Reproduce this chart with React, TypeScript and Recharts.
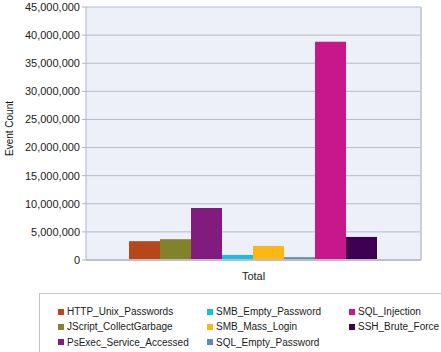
import React from 'react';
import { BarChart, Bar, XAxis, YAxis, CartesianGrid, Legend } from 'recharts';

const categories = ['Total'];
const seriesNames = [
  'HTTP_Unix_Passwords',
  'JScript_CollectGarbage',
  'PsExec_Service_Accessed',
  'SMB_Empty_Password',
  'SMB_Mass_Login',
  'SQL_Empty_Password',
  'SQL_Injection',
  'SSH_Brute_Force',
];
const seriesValues = [3350000, 3700000, 9250000, 900000, 2500000, 500000, 38800000, 4100000];
const seriesColors = ['#B8461B', '#82822A', '#821B7E', '#19BEE8', '#FDB714', '#5B87C6', '#C8178A', '#3E0052'];
const yTicks = [0, 5000000, 10000000, 15000000, 20000000, 25000000, 30000000, 35000000, 40000000, 45000000];
const yAxisTitle = 'Event Count';

const data = categories.map((c) => {
  const row: Record<string, string | number> = { category: c };
  seriesNames.forEach((n, i) => {
    row[n] = seriesValues[i];
  });
  return row;
});

const FONT = '"Liberation Sans", Arial, sans-serif';

const LegendBox = (props: any) => {
  const payload = props.payload || [];
  return (
    <div
      style={{
        boxSizing: 'border-box',
        width: 420,
        height: 70,
        border: '1px solid #C6C6C6',
        borderRight: 'none',
        background: '#FFFFFF',
        paddingTop: 10,
        paddingLeft: 18,
        display: 'grid',
        gridAutoFlow: 'column',
        gridTemplateRows: 'repeat(3, 15.3px)',
        gridTemplateColumns: '149px 142px auto',
        fontFamily: FONT,
        fontSize: 10,
        color: '#1a1a1a',
      }}
    >
      {payload.map((p: any) => (
        <div key={p.value} style={{ display: 'flex', alignItems: 'center', whiteSpace: 'nowrap' }}>
          <span style={{ display: 'inline-block', width: 6, height: 6, background: p.color, marginRight: 3 }} />
          <span>{p.value}</span>
        </div>
      ))}
    </div>
  );
};

const YTitle = (props: any) => {
  const vb = props.viewBox || { x: 0, y: 0, width: 0, height: 0 };
  const cx = vb.x + 13;
  const cy = vb.y + vb.height / 2 - 5;
  return (
    <text
      x={cx}
      y={cy}
      transform={`rotate(-90, ${cx}, ${cy})`}
      textAnchor="middle"
      fontFamily={FONT}
      fontSize={10}
      fill="#111"
    >
      {yAxisTitle}
    </text>
  );
};

export default function App() {
  return (
    <div style={{ position: 'absolute', left: 0, top: 0, width: 441, height: 352, background: '#fff' }}>
      <BarChart
        width={441}
        height={352}
        data={data}
        margin={{ top: 7, right: 0, left: 0, bottom: 70 }}
        barCategoryGap="12.84%"
        barGap={0}
      >
        <CartesianGrid vertical={false} stroke="#B9BBC6" fill="#EDEFF9" strokeWidth={1} />
        <XAxis
          dataKey="category"
          height={22}
          tickLine={false}
          tickMargin={6}
          axisLine={{ stroke: '#BDBDC4', strokeWidth: 2 }}
          tick={{ fontFamily: FONT, fontSize: 11, fill: '#222' }}
        />
        <YAxis
          width={86}
          domain={[0, 45000000]}
          ticks={yTicks}
          interval={0}
          tickSize={4}
          tickMargin={2}
          tickFormatter={(v: number) => v.toLocaleString('en-US')}
          axisLine={{ stroke: '#B5B5BD' }}
          tickLine={{ stroke: '#B5B5BD' }}
          tick={{ fontFamily: FONT, fontSize: 11, fill: '#222' }}
          label={{ value: yAxisTitle, content: <YTitle /> }}
        />
        <YAxis
          yAxisId="frame"
          orientation="right"
          width={20}
          domain={[0, 45000000]}
          tick={false}
          tickLine={false}
          axisLine={{ stroke: '#CDCDD4', strokeWidth: 2 }}
        />
        <Legend
          layout="horizontal"
          verticalAlign="middle"
          align="center"
          wrapperStyle={{ position: 'absolute', left: 39, top: 293, width: 420 }}
          content={<LegendBox />}
        />
        {seriesNames.map((n, i) => (
          <Bar key={n} dataKey={n} name={n} fill={seriesColors[i]} isAnimationActive={false} />
        ))}
      </BarChart>
    </div>
  );
}
